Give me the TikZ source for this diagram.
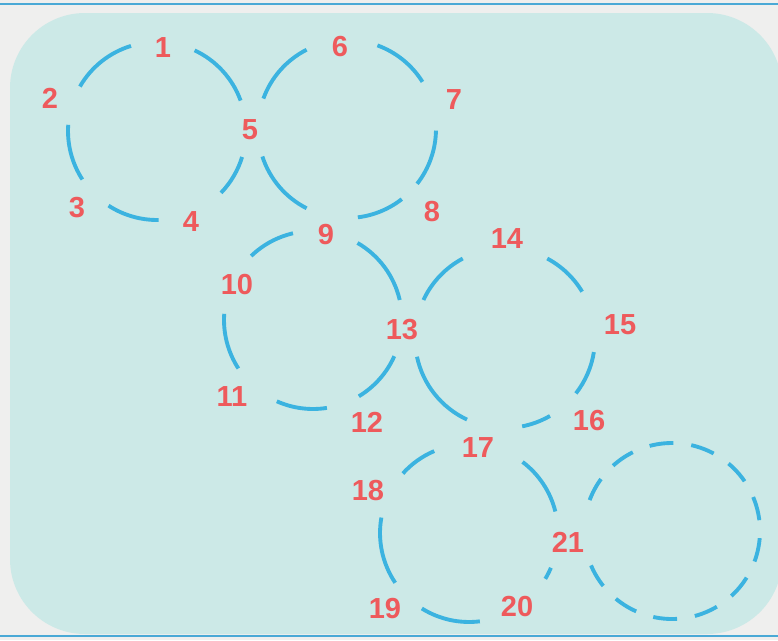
\documentclass[tikz,border=0pt]{standalone}
\usepackage{fontspec}
\setmainfont{Liberation Sans}
\definecolor{pagegray}{HTML}{EFEFEE}
\definecolor{panelteal}{HTML}{CCE9E7}
\definecolor{ringblue}{HTML}{3BB3E0}
\definecolor{numred}{HTML}{EE5A5C}
\definecolor{ruleblue}{HTML}{4AA9D6}

\begin{document}
\begin{tikzpicture}[x=0.02cm,y=-0.02cm,
       ring/.style={ringblue,line width=2.2pt},
       num/.style={text=numred,font=\fontsize{16.5}{18}\selectfont\bfseries,inner sep=0pt}]
      \useasboundingbox (0,0) rectangle (778,640);
      \fill[pagegray] (0,0) rectangle (778,640);
      \fill[panelteal,rounded corners=1.5cm] (10,13) rectangle (782,634);
      \draw[ruleblue,line width=1.5pt] (0,4) -- (778,4);
      \draw[ruleblue,line width=1.5pt] (0,636) -- (778,636);
      \coordinate (cA) at (157,131);
      \coordinate (cB) at (347,129);
      \coordinate (cC) at (313,320);
      \coordinate (cD) at (505,338);
      \coordinate (cE) at (469,533);
      \coordinate (cF) at (672,531);
      \draw[ring] (cA) ++(20:1.78cm) arc[start angle=20,end angle=65,radius=1.78cm]
                  (cA) ++(107:1.78cm) arc[start angle=107,end angle=150,radius=1.78cm]
                  (cA) ++(176:1.78cm) arc[start angle=176,end angle=213,radius=1.78cm]
                  (cA) ++(237:1.78cm) arc[start angle=237,end angle=271,radius=1.78cm]
                  (cA) ++(316:1.78cm) arc[start angle=316,end angle=343,radius=1.78cm];
      \draw[ring] (cB) ++(32:1.78cm) arc[start angle=32,end angle=70,radius=1.78cm]
                  (cB) ++(117:1.78cm) arc[start angle=117,end angle=160,radius=1.78cm]
                  (cB) ++(198:1.78cm) arc[start angle=198,end angle=243,radius=1.78cm]
                  (cB) ++(-83:1.78cm) arc[start angle=-83,end angle=-52,radius=1.78cm]
                  (cB) ++(-38:1.78cm) arc[start angle=-38,end angle=-1,radius=1.78cm];
      \draw[ring] (cC) ++(13:1.78cm) arc[start angle=13,end angle=60,radius=1.78cm]
                  (cC) ++(103:1.78cm) arc[start angle=103,end angle=134,radius=1.78cm]
                  (cC) ++(176:1.78cm) arc[start angle=176,end angle=213,radius=1.78cm]
                  (cC) ++(246:1.78cm) arc[start angle=246,end angle=279,radius=1.78cm]
                  (cC) ++(301:1.78cm) arc[start angle=301,end angle=336,radius=1.78cm];
      \draw[ring] (cD) ++(31:1.8cm) arc[start angle=31,end angle=62,radius=1.8cm]
                  (cD) ++(118:1.8cm) arc[start angle=118,end angle=155,radius=1.8cm]
                  (cD) ++(192:1.8cm) arc[start angle=192,end angle=245,radius=1.8cm]
                  (cD) ++(-79:1.8cm) arc[start angle=-79,end angle=-60,radius=1.8cm]
                  (cD) ++(-38:1.8cm) arc[start angle=-38,end angle=-9,radius=1.8cm];
      \draw[ring] (cE) ++(14:1.78cm) arc[start angle=14,end angle=53,radius=1.78cm]
                  (cE) ++(113:1.78cm) arc[start angle=113,end angle=138,radius=1.78cm]
                  (cE) ++(170:1.78cm) arc[start angle=170,end angle=214,radius=1.78cm]
                  (cE) ++(238:1.78cm) arc[start angle=238,end angle=277,radius=1.78cm]
                  (cE) ++(-31:1.78cm) arc[start angle=-31,end angle=-23,radius=1.78cm];
      \draw[ring,dash pattern=on 0.48cm off 0.36cm] (cF) ++(203:1.76cm) arc[start angle=203,end angle=520,radius=1.76cm];
      \node[num] (n1) at (163,48) {1};
      \node[num] (n2) at (50,98) {2};
      \node[num] (n3) at (77,208) {3};
      \node[num] (n4) at (191,222) {4};
      \node[num] (n5) at (250,130) {5};
      \node[num] (n6) at (340,47) {6};
      \node[num] (n7) at (454,100) {7};
      \node[num] (n8) at (432,212) {8};
      \node[num] (n9) at (326,235) {9};
      \node[num] (n10) at (237,285) {10};
      \node[num] (n11) at (232,397) {11};
      \node[num] (n12) at (367,422) {12};
      \node[num] (n13) at (402,330) {13};
      \node[num] (n14) at (507,239) {14};
      \node[num] (n15) at (620,325) {15};
      \node[num] (n16) at (589,421) {16};
      \node[num] (n17) at (478,448) {17};
      \node[num] (n18) at (368,491) {18};
      \node[num] (n19) at (385,609) {19};
      \node[num] (n20) at (517,607) {20};
      \node[num] (n21) at (568,542) {21};
    \end{tikzpicture}
\end{document}
